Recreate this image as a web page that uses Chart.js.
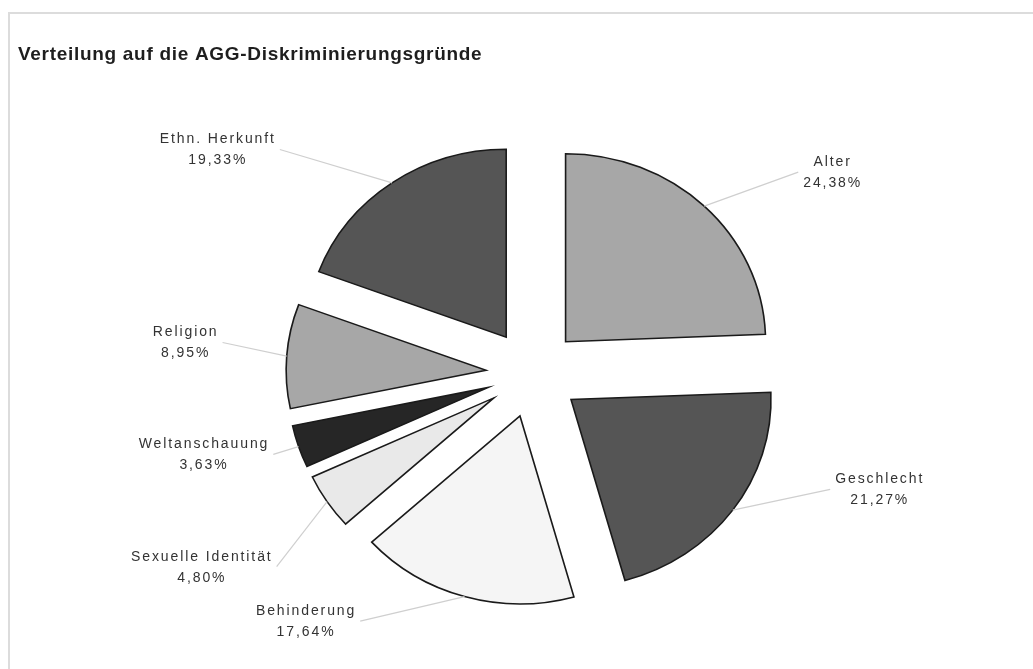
<!DOCTYPE html>
<html lang="de">
<head>
<meta charset="utf-8">
<title>Verteilung auf die AGG-Diskriminierungsgründe</title>
<script src="https://cdn.jsdelivr.net/npm/chart.js@4.4.1/dist/chart.umd.min.js"></script>
<style>
  html, body { margin: 0; padding: 0; background: #ffffff; }
  #wrap { position: relative; width: 1033px; height: 669px; }
</style>
</head>
<body>
<div id="wrap"><canvas id="chart" width="1033" height="669"></canvas></div>
<script>
// Anteile der AGG-Merkmale (in %), im Uhrzeigersinn ab 12 Uhr
const categories = [
  'Alter',
  'Geschlecht',
  'Behinderung',
  'Sexuelle Identität',
  'Weltanschauung',
  'Religion',
  'Ethn. Herkunft'
];
const shares = [24.38, 21.27, 17.64, 4.80, 3.63, 8.95, 19.33];
const sliceColors = ['#a7a7a7', '#555555', '#f5f5f5', '#e9e9e9', '#262626', '#a7a7a7', '#555555'];

// Lage der Beschriftungen: Endpunkt der Führungslinie, als Winkel
// (Grad, im Uhrzeigersinn ab 12 Uhr) und Abstand vom Kreismittelpunkt
const labelAngles = [52.8, 111.3, 214.9, 233.0, 252.7, 275.7, 311.5];
const labelDistances = [333, 319, 302, 321, 272, 312, 338];

const EXPLODE = 47;        // Abstand, um den jedes Segment nach außen rückt
const PIE_RADIUS = 200;
const SQUASH = 0.94;       // leicht gestauchte Höhe des Kreises

const fmt = v => v.toFixed(2).replace('.', ',') + '%';

// Rahmen und Überschrift
const framePlugin = {
  id: 'frame',
  beforeDraw(chart) {
    const ctx = chart.ctx;
    ctx.save();
    ctx.strokeStyle = '#dcdcdc';
    ctx.lineWidth = 2;
    ctx.beginPath();
    ctx.moveTo(1033, 13);
    ctx.lineTo(9, 13);
    ctx.lineTo(9, 669);
    ctx.stroke();
    ctx.restore();
  },
  afterDraw(chart) {
    const ctx = chart.ctx;
    ctx.save();
    ctx.fillStyle = '#1e1e1e';
    ctx.font = 'bold 19px "Liberation Sans", Arial, sans-serif';
    ctx.textBaseline = 'middle';
    ctx.textAlign = 'left';
    ctx.letterSpacing = '0.7px';
    ctx.fillText('Verteilung auf die AGG-Diskriminierungsgründe', 18, 55);
    ctx.restore();
  }
};

// Segmente vom Mittelpunkt weg versetzt zeichnen
const explodePlugin = {
  id: 'explode',
  beforeDatasetDraw(chart, args) {
    const ctx = chart.ctx;
    args.meta.data.forEach(arc => {
      const mid = (arc.startAngle + arc.endAngle) / 2;
      ctx.save();
      ctx.translate(arc.x, arc.y);
      ctx.scale(1, SQUASH);
      ctx.translate(-arc.x, -arc.y);
      ctx.translate(Math.cos(mid) * EXPLODE, Math.sin(mid) * EXPLODE);
      arc.draw(ctx);
      ctx.restore();
    });
    return false;
  }
};

// Außenbeschriftungen mit Führungslinien
const outerLabelPlugin = {
  id: 'outerLabels',
  afterDatasetsDraw(chart) {
    const ctx = chart.ctx;
    const meta = chart.getDatasetMeta(0);
    const values = chart.data.datasets[0].data;
    const total = values.reduce((a, b) => a + b, 0);
    ctx.save();
    ctx.font = '14px "Liberation Sans", Arial, sans-serif';
    ctx.letterSpacing = '1.9px';
    ctx.textBaseline = 'middle';
    ctx.textAlign = 'center';
    meta.data.forEach((arc, i) => {
      const cx = arc.x, cy = arc.y;
      const mid = (arc.startAngle + arc.endAngle) / 2;
      const r0 = EXPLODE + arc.outerRadius;
      const x0 = cx + Math.cos(mid) * r0;
      const y0 = cy + Math.sin(mid) * r0 * SQUASH;
      const th = labelAngles[i] * Math.PI / 180;
      const x1 = cx + Math.sin(th) * labelDistances[i];
      const y1 = cy - Math.cos(th) * labelDistances[i];

      ctx.strokeStyle = '#cfcfcf';
      ctx.lineWidth = 1.2;
      ctx.beginPath();
      ctx.moveTo(x0, y0);
      ctx.lineTo(x1, y1);
      ctx.stroke();

      const line1 = chart.data.labels[i];
      const line2 = fmt(values[i] / total * 100);
      const w = Math.max(ctx.measureText(line1).width, ctx.measureText(line2).width);
      const right = x1 > cx;
      const tx = right ? x1 + 5 + w / 2 : x1 - 4 - w / 2;
      ctx.fillStyle = '#333333';
      ctx.fillText(line1, tx, y1 - 10);
      ctx.fillText(line2, tx, y1 + 11);
    });
    ctx.restore();
  }
};

new Chart(document.getElementById('chart'), {
  type: 'pie',
  data: {
    labels: categories,
    datasets: [{
      data: shares,
      backgroundColor: sliceColors,
      borderColor: '#1a1a1a',
      borderWidth: 1.6,
      borderJoinStyle: 'miter',
      hoverOffset: 0,
      offset: 0
    }]
  },
  options: {
    responsive: false,
    animation: false,
    events: [],
    rotation: 0,
    radius: PIE_RADIUS,
    layout: { padding: { left: 33, right: 0, top: 78, bottom: 0 } },
    plugins: {
      legend: { display: false },
      title: { display: false },
      tooltip: { enabled: false }
    }
  },
  plugins: [framePlugin, explodePlugin, outerLabelPlugin]
});
</script>
</body>
</html>
